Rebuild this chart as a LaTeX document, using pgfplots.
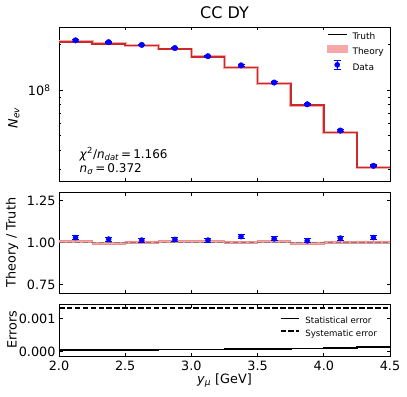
\documentclass[border=0pt]{standalone}
\usepackage{fontspec}
\setmainfont{DejaVu Sans}
\usepackage{pgfplots}
\usepackage{pgfplotstable}
\pgfplotsset{compat=1.18}

\newcommand{\tickfont}{\fontsize{12.8bp}{15bp}\selectfont}
\newcommand{\legfont}{\fontsize{9bp}{11bp}\selectfont}
\newcommand{\leglfont}{\fontsize{8.6bp}{10bp}\selectfont}
\definecolor{thband}{HTML}{F6A8A8}
\definecolor{thedge}{HTML}{F08C8C}
\definecolor{thline}{HTML}{CC2A2A}

\pgfplotstableread{
x T Th R Rlo Rhi Rw
2.00 2.07e8 2.082e8 1.006 1.000 1.012 0.012
2.25 2.03e8 2.022e8 0.996 0.990 1.002 0.012
2.50 1.96e8 1.968e8 1.004 0.998 1.010 0.012
2.75 1.86e8 1.869e8 1.005 0.999 1.011 0.012
3.00 1.65e8 1.658e8 1.005 0.999 1.011 0.012
3.25 1.405e8 1.408e8 1.002 0.996 1.008 0.012
3.50 1.096e8 1.105e8 1.008 1.002 1.014 0.012
3.75 7.96e7 7.94e7 0.997 0.991 1.003 0.012
4.00 5.25e7 5.245e7 0.999 0.993 1.005 0.012
4.25 3.06e7 3.069e7 1.003 0.997 1.009 0.012
4.50 3.06e7 3.069e7 1.003 0.997 1.009 0.012
}\bins

\pgfplotstableread{
x D De DR DRe
2.125 2.130e8 2.6e6 1.029 0.012
2.375 2.071e8 2.5e6 1.020 0.012
2.625 1.987e8 2.4e6 1.014 0.012
2.875 1.893e8 2.3e6 1.018 0.012
3.125 1.673e8 2.0e6 1.014 0.012
3.375 1.454e8 1.7e6 1.035 0.012
3.625 1.120e8 1.3e6 1.022 0.012
3.875 8.04e7 9.6e5 1.010 0.012
4.125 5.39e7 6.5e5 1.026 0.012
4.375 3.15e7 3.8e5 1.029 0.012
}\pts

\pgfplotstableread{
x stat sys
2.00 0.00006 0.00131
2.25 0.00006 0.00131
2.50 0.00006 0.00131
2.75 0.00007 0.00131
3.00 0.00007 0.00131
3.25 0.00008 0.00131
3.50 0.00009 0.00131
3.75 0.00010 0.00131
4.00 0.00012 0.00131
4.25 0.00014 0.00131
4.50 0.00014 0.00131
}\errs

\pgfplotsset{
  panel/.style={
    scale only axis, width=331bp,
    xmin=2, xmax=4.5,
    xtick={2,2.5,3,3.5,4,4.5},
    tick align=inside,
    major tick length=3.5bp, minor tick length=2bp,
    axis line style={line width=0.8bp},
    every tick/.style={black, line width=0.8bp},
    every minor tick/.style={black, line width=0.6bp},
    tick label style={font=\tickfont},
    every axis y label/.style={at={(axis description cs:-0.142,0.5)}, rotate=90, anchor=center, font=\tickfont},
    every axis x label/.style={at={(axis description cs:0.5,0)}, anchor=center, yshift=-24.5bp, font=\tickfont},
    xticklabel style={anchor=base, yshift=-14bp},
    scaled y ticks=false,
  },
}

\begin{document}
\begin{tikzpicture}
\path[use as bounding box] (0,0) rectangle (407bp,-397bp);

% ---------------- top panel ----------------
\begin{axis}[panel,
  at={(59bp,-27bp)}, anchor=north west, height=154bp,
  ymode=log, ymin=2.5e7, ymax=2.61e8,
  ytick={1e8}, yticklabels={10\textsuperscript{8}},
  yticklabel style={xshift=-5bp},
  minor ytick={3e7,4e7,5e7,6e7,7e7,8e7,9e7,2e8},
  xticklabels={},
  title={CC DY},
  title style={at={(0.5,1)}, anchor=base, yshift=3bp, font=\fontsize{16bp}{19bp}\selectfont},
  ylabel={\textit{N}\textsubscript{\textit{ev}}},
  ylabel style={at={(axis description cs:-0.136,0.41)}},
  legend style={at={(1,1)}, anchor=north east, xshift=-6bp, yshift=-6bp,
    draw=none, fill=none, font=\legfont, inner sep=0pt, row sep=3.5bp,
    nodes={inner sep=0pt, text height=6.5bp, text depth=2bp},
    /tikz/every odd column/.append style={column sep=5bp}},
  legend cell align=left,
]
\addplot[thband, line width=2.8bp, const plot, forget plot] table[x=x, y=Th]{\bins};
\addplot[black, line width=1bp, const plot,
  legend image code/.code={\draw[black, line width=1bp] (0bp,3bp) -- (19bp,3bp);}]
  table[x=x, y=T]{\bins};
\addlegendentry{Truth}
\addplot[thline, line width=1.6bp, const plot,
  legend image code/.code={\fill[thband] (0bp,0bp) rectangle (19bp,6.2bp);}]
  table[x=x, y=Th]{\bins};
\addlegendentry{Theory}
\addplot[blue, only marks, mark=*, mark size=2.8bp,
  legend image code/.code={%
    \draw[blue, line width=1.2bp] (9.5bp,-1.3bp)--(9.5bp,7.3bp) (6bp,-1.3bp)--(13bp,-1.3bp) (6bp,7.3bp)--(13bp,7.3bp);
    \fill[blue] (9.5bp,3bp) circle (2.6bp);},
  error bars/.cd, y dir=both, y explicit,
  error bar style={line width=1.2bp, blue},
  error mark options={rotate=90, mark size=3.5bp, line width=1.2bp, blue}]
  table[x=x, y=D, y error=De]{\pts};
\addlegendentry{Data}
\node[anchor=west, font=\fontsize{12bp}{14bp}\selectfont] at (rel axis cs:0.052,0.175)
  {\textit{χ}\textsuperscript{2}/\textit{n}\textsubscript{\textit{dat}}\,=\,1.166};
\node[anchor=west, font=\fontsize{12bp}{14bp}\selectfont] at (rel axis cs:0.052,0.078)
  {\textit{n}\textsubscript{\textit{σ}}\,=\,0.372};
\end{axis}

% ---------------- ratio panel ----------------
\begin{axis}[panel,
  at={(59bp,-192bp)}, anchor=north west, height=101bp,
  ymin=0.7, ymax=1.3,
  ytick={0.75,1,1.25}, yticklabels={0.75,1.00,1.25},
  xticklabels={},
  ylabel={Theory / Truth},
]
\addplot[draw=none, const plot, stack plots=y, forget plot] table[x=x, y=Rlo]{\bins};
\addplot[fill=thband, draw=none, const plot, stack plots=y, forget plot] table[x=x, y=Rw]{\bins} \closedcycle;
\addplot[thedge, line width=0.6bp, const plot] table[x=x, y=Rhi]{\bins};
\addplot[thedge, line width=0.6bp, const plot] table[x=x, y=Rlo]{\bins};
\addplot[gray, line width=1.5bp, dash pattern=on 5.5bp off 2.4bp] coordinates {(2,1) (4.5,1)};
\addplot[blue, only marks, mark=*, mark size=2.6bp,
  error bars/.cd, y dir=both, y explicit,
  error bar style={line width=1.2bp, blue},
  error mark options={rotate=90, mark size=3.5bp, line width=1.2bp, blue}]
  table[x=x, y=DR, y error=DRe]{\pts};
\end{axis}

% ---------------- errors panel ----------------
\begin{axis}[panel,
  at={(59bp,-304bp)}, anchor=north west, height=52bp,
  ymin=-0.000125, ymax=0.00144,
  ytick={0,0.001}, yticklabels={0.000,0.001},
  xticklabels={2.0,2.5,3.0,3.5,4.0,4.5},
  ylabel={Errors},
  xlabel={\textit{y}\textsubscript{\textit{μ}} [GeV]},
  legend style={at={(1,1)}, anchor=north east, xshift=-13bp, yshift=-13bp,
    draw=none, fill=none, font=\leglfont, inner sep=0pt, row sep=4bp,
    nodes={inner sep=0pt, text height=6.5bp, text depth=2bp},
    /tikz/every odd column/.append style={column sep=6bp}},
  legend cell align=left,
]
\addplot[black, line width=1.8bp, const plot,
  legend image code/.code={\draw[black, line width=1.8bp] (0bp,3bp) -- (18bp,3bp);}]
  table[x=x, y=stat]{\errs};
\addlegendentry{Statistical error}
\addplot[black, line width=1.8bp, const plot, dash pattern=on 5.5bp off 2.4bp,
  legend image code/.code={\draw[black, line width=1.8bp, dash pattern=on 5.5bp off 2.4bp] (0bp,3bp) -- (18bp,3bp);}]
  table[x=x, y=sys]{\errs};
\addlegendentry{Systematic error}
\end{axis}
\end{tikzpicture}
\end{document}
